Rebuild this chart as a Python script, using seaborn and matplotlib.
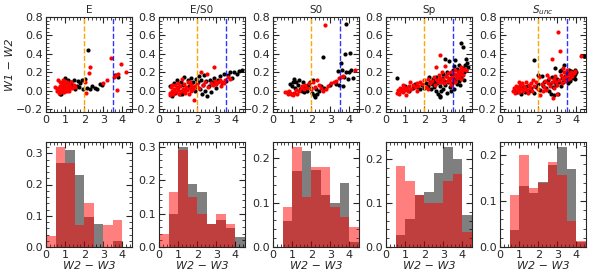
import numpy as np
import pandas as pd
import matplotlib
matplotlib.use("Agg")
import matplotlib.pyplot as plt
from matplotlib.ticker import AutoMinorLocator
import seaborn as sns

sns.set_style("ticks")
plt.rcParams['font.family'] = ['DejaVu Sans']

titles = ["E", "E/S0", "S0", "Sp", r"$S_{unc}$"]

# ---- scatter data (W2-W3, W1-W2) ----
E_red = [(0.45,0.04),(0.55,0.02),(0.6,0.0),(0.62,0.03),(0.65,0.12),(0.7,0.01),(0.7,-0.02),(0.72,0.05),
         (0.75,0.02),(0.78,0.0),(0.8,0.03),(0.8,-0.01),(0.82,0.06),(0.85,0.01),(0.88,0.04),(0.9,0.02),
         (0.9,0.12),(0.92,-0.01),(0.95,0.05),(0.98,0.0),(1.0,0.03),(1.0,0.08),(1.05,0.01),(1.08,0.1),
         (1.1,0.04),(1.12,0.0),(1.15,0.06),(1.2,0.02),(1.25,0.05),(1.3,0.1),(1.35,0.03),(1.45,0.06),
         (1.5,0.04),(0.75,0.09),(0.85,0.07),(0.95,0.11),(1.18,0.0),(2.05,0.1),(2.1,-0.02),(2.25,0.19),
         (2.3,0.26),(3.0,0.08),(3.2,0.12),(3.4,0.36),(3.55,0.15),(3.65,0.17),(3.72,0.01),(3.78,0.18),
         (3.9,0.29),(4.2,0.2)]
E_black = [(0.72,-0.03),(0.78,-0.04),(0.85,0.02),(0.95,0.05),(1.0,0.14),(1.1,0.08),(1.2,0.03),(1.3,0.1),
           (1.35,0.06),(1.45,0.12),(1.5,0.02),(1.6,0.05),(1.65,0.11),(1.75,0.04),(1.8,0.08),(1.9,0.12),
           (1.95,0.02),(2.05,0.13),(2.15,0.03),(2.2,0.44),(2.3,0.02),(2.4,0.05),(2.55,0.03),(2.65,0.02),
           (2.85,0.07),(2.95,0.06),(1.15,0.12),(0.9,0.1),(3.62,0.17),(3.75,0.15)]
ES0_red = [(0.55,-0.05),(0.6,-0.02),(0.65,0.04),(0.7,0.0),(0.75,-0.03),(0.8,0.02),(0.85,0.06),(0.9,-0.01),
           (0.95,0.03),(1.0,0.01),(1.05,-0.04),(1.1,0.05),(1.15,0.0),(1.2,0.13),(1.25,0.02),(1.3,0.07),
           (1.35,-0.02),(1.4,0.04),(1.45,0.01),(1.5,0.09),(1.55,-0.03),(1.6,0.03),(1.65,0.06),(1.7,0.0),
           (1.75,0.04),(1.8,0.02),(1.85,-0.1),(1.9,0.05),(2.0,0.07),(2.1,0.03),(2.2,0.2),(2.3,0.06),
           (2.4,0.1),(2.5,0.18),(2.55,0.04),(2.7,0.08),(2.8,0.06),(2.9,0.26),(2.95,0.11),(3.0,0.07),
           (3.1,0.09),(3.2,0.12),(3.25,0.05),(3.3,0.1),(3.4,0.08),(3.45,0.12),(3.6,0.15),(3.7,0.13),
           (0.7,0.06),(1.0,0.08),(1.3,0.0),(1.6,0.1)]
ES0_black = [(0.6,0.05),(0.7,-0.06),(0.8,0.08),(0.85,-0.02),(0.95,0.12),(1.0,0.04),(1.1,-0.03),(1.15,0.1),
             (1.25,0.06),(1.3,0.15),(1.4,0.02),(1.5,0.12),(1.55,0.05),(1.65,0.14),(1.7,0.08),(1.8,0.1),
             (1.9,0.0),(1.95,0.13),(2.0,0.04),(2.05,0.09),(2.1,0.16),(2.15,0.02),(2.2,0.12),(2.3,0.06),
             (2.35,0.17),(2.4,0.0),(2.45,0.11),(2.5,-0.06),(2.6,0.05),(2.65,0.12),(2.7,-0.01),(2.8,0.1),
             (2.9,0.14),(3.0,0.03),(3.1,0.12),(3.2,0.16),(3.3,0.08),(3.4,0.18),(3.5,0.11),(3.6,0.17),
             (3.7,0.2),(3.8,0.14),(3.95,0.2),(4.1,0.18),(4.2,0.21),(4.35,0.22),(1.2,-0.04),(2.25,-0.03)]
S0_red = [(0.65,-0.01),(0.75,-0.01),(0.8,-0.03),(0.85,0.0),(0.9,-0.02),(0.95,-0.04),(1.0,-0.03),(1.05,-0.05),
          (1.1,-0.02),(1.2,0.01),(1.25,-0.03),(1.35,0.0),(1.5,0.05),(1.6,0.02),(1.7,0.06),(1.8,0.03),
          (1.9,0.08),(2.0,0.02),(2.1,0.1),(2.2,0.04),(2.3,0.12),(2.4,0.06),(2.5,0.03),(2.6,0.0),
          (2.7,0.71),(2.75,0.02),(2.9,0.05),(3.05,0.08),(3.2,0.1),(3.3,0.11),(3.45,0.14),(3.55,0.15),
          (3.65,0.16),(4.3,0.23),(1.45,0.03)]
S0_black = [(0.9,0.07),(1.0,0.05),(1.05,0.1),(1.1,0.13),(1.15,0.03),(1.2,0.1),(1.3,0.06),(1.35,0.12),
            (1.4,0.02),(1.5,0.0),(1.55,0.09),(1.6,-0.01),(1.7,0.04),(1.8,0.0),(1.85,0.06),(1.95,0.1),
            (2.0,0.03),(2.05,-0.02),(2.1,0.12),(2.15,-0.05),(2.2,-0.07),(2.25,0.02),(2.3,-0.04),(2.4,0.0),
            (2.5,0.05),(2.6,0.37),(2.65,0.03),(3.0,0.06),(3.3,0.07),(3.4,0.21),(3.45,0.06),(3.55,0.3),
            (3.6,0.22),(3.65,0.05),(3.7,0.15),(3.75,0.4),(3.8,0.2),(3.83,0.72),(3.9,0.13),(4.0,0.2),
            (4.03,0.41),(4.1,0.22),(4.2,0.14)]
Sp_red = [(0.6,-0.02),(0.65,0.01),(0.7,-0.03),(0.75,0.03),(0.8,0.0),(0.85,0.02),(0.9,-0.01),(0.95,0.04),
          (1.0,0.01),(1.05,-0.05),(1.1,0.03),(1.15,0.0),(1.2,0.05),(1.3,0.02),(1.4,0.06),(1.5,0.04),
          (1.6,0.08),(1.7,0.05),(1.8,0.1),(1.9,0.07),(2.0,0.12),(2.1,0.04),(2.2,0.13),(2.3,0.08),
          (2.4,0.11),(2.5,0.15),(2.55,0.06),(2.6,0.26),(2.65,0.12),(2.7,0.09),(2.75,0.17),(2.8,0.39),
          (2.85,0.14),(2.9,0.1),(2.95,0.2),(3.0,0.13),(3.05,0.08),(3.1,0.27),(3.15,0.16),(3.2,0.11),
          (3.25,0.19),(3.3,0.14),(3.35,0.09),(3.4,0.2),(3.45,0.15),(3.5,0.12),(3.55,0.18),(3.6,0.1),
          (3.65,0.17),(3.7,0.14),(3.75,0.2),(3.8,0.16),(3.85,0.22),(3.9,0.18),(3.95,0.13),(4.0,0.21),
          (4.05,0.17),(4.1,0.24),(4.2,0.22),(1.25,0.09),(0.9,0.06),(1.6,0.0),(2.2,0.02),(3.4,0.06),
          (3.6,0.23),(3.95,0.26)]
Sp_black = [(0.6,0.14),(1.2,0.0),(1.4,0.03),(1.6,0.04),(1.8,0.02),(1.9,0.06),(2.0,0.03),(2.1,0.08),
            (2.2,0.05),(2.3,0.1),(2.35,0.02),(2.4,0.07),(2.45,0.13),(2.5,0.04),(2.55,0.1),(2.6,0.0),
            (2.65,0.08),(2.7,-0.04),(2.75,0.12),(2.8,0.05),(2.85,-0.06),(2.9,0.09),(2.95,0.14),(3.0,0.02),
            (3.05,0.11),(3.1,0.34),(3.1,0.06),(3.15,0.16),(3.2,-0.02),(3.25,0.1),(3.3,0.32),(3.3,0.13),
            (3.35,0.04),(3.4,0.18),(3.45,0.08),(3.5,0.14),(3.5,0.22),(3.55,0.02),(3.6,0.33),(3.6,0.12),
            (3.65,0.17),(3.7,0.07),(3.7,0.24),(3.75,0.15),(3.8,0.28),(3.8,0.11),(3.85,0.19),(3.9,0.52),
            (3.9,0.14),(3.95,0.22),(4.0,0.17),(4.05,0.47),(4.05,0.25),(4.1,0.2),(4.15,0.28),(4.2,0.35),
            (4.2,0.23),(4.25,0.3),(4.3,0.26),(2.9,0.0),(3.0,0.18),(3.2,0.2),(2.6,0.15),(2.8,-0.07),
            (3.4,0.0),(3.55,0.27),(1.0,0.05),(1.5,0.07),(2.25,0.15),(3.85,0.06),(4.1,0.12)]
Sunc_red = [(0.7,0.0),(0.75,0.03),(0.8,-0.02),(0.85,0.05),(0.9,0.01),(0.95,0.04),(1.0,-0.01),(1.05,0.06),
            (1.1,0.02),(1.15,0.08),(1.2,0.0),(1.25,0.05),(1.3,0.03),(1.35,0.1),(1.4,0.01),(1.5,0.06),
            (1.55,0.03),(1.6,0.08),(1.7,0.0),(1.8,0.05),(1.9,0.09),(2.0,0.02),(2.05,0.15),(2.1,-0.05),
            (2.2,0.07),(2.3,0.04),(2.35,0.11),(2.4,0.01),(2.5,0.08),(2.55,0.14),(2.6,0.05),(2.7,0.35),
            (2.7,0.1),(2.75,-0.08),(2.8,0.13),(2.85,0.03),(2.9,0.16),(2.95,0.09),(3.0,0.06),(3.06,0.64),
            (3.1,0.12),(3.15,0.43),(3.2,0.17),(3.25,0.08),(3.3,0.14),(3.35,0.2),(3.4,0.11),(3.45,0.16),
            (3.5,0.22),(3.55,0.13),(3.6,0.18),(3.65,0.14),(3.7,0.2),(3.75,0.16),(3.85,0.19),(3.95,0.21),
            (4.26,0.38),(1.0,0.09),(1.45,-0.02),(1.75,0.12),(2.25,0.0),(2.45,0.17),(3.0,-0.03),(3.3,0.25)]
Sunc_black = [(0.8,0.01),(0.9,-0.01),(1.0,0.03),(1.1,-0.03),(1.2,0.04),(1.3,-0.01),(1.4,0.05),(1.5,0.0),
              (1.6,0.03),(1.78,0.33),(1.8,-0.02),(1.9,0.04),(2.0,0.07),(2.1,0.01),(2.2,0.16),(2.25,0.05),
              (2.3,0.09),(2.4,0.03),(2.5,0.12),(2.55,0.0),(2.6,0.07),(2.7,0.15),(2.75,0.04),(2.8,-0.05),
              (2.85,0.1),(2.9,0.25),(2.95,0.06),(3.0,0.13),(3.05,-0.04),(3.1,0.09),(3.15,0.21),(3.2,0.05),
              (3.25,0.14),(3.3,0.1),(3.35,0.28),(3.4,0.16),(3.45,0.12),(3.5,0.19),(3.55,0.14),(3.6,0.23),
              (3.65,0.11),(3.7,0.17),(3.75,0.14),(3.8,0.2),(3.85,0.16),(3.9,0.22),(3.95,0.18),(4.0,0.2),
              (4.4,0.38),(2.0,0.17),(2.65,-0.04),(3.2,0.22),(3.55,0.08),(3.9,0.13),(3.7,0.21)]

scatter_red = [E_red, ES0_red, S0_red, Sp_red, Sunc_red]
scatter_black = [E_black, ES0_black, S0_black, Sp_black, Sunc_black]

# ---- histogram data: fraction per 0.5-wide bin of W2-W3 (0..4.5) ----
bin_centers = [0.25, 0.75, 1.25, 1.75, 2.25, 2.75, 3.25, 3.75, 4.25]
E_hist_black    = [0.0, 0.27, 0.31, 0.23, 0.095, 0.075, 0.0, 0.02, 0.0]
E_hist_red      = [0.035, 0.32, 0.27, 0.07, 0.14, 0.0, 0.07, 0.088, 0.0]
ES0_hist_black  = [0.0, 0.10, 0.30, 0.19, 0.165, 0.07, 0.08, 0.057, 0.03]
ES0_hist_red    = [0.04, 0.165, 0.29, 0.15, 0.10, 0.068, 0.098, 0.07, 0.0]
S0_hist_black   = [0.0, 0.058, 0.172, 0.217, 0.173, 0.118, 0.10, 0.145, 0.012]
S0_hist_red     = [0.0, 0.09, 0.225, 0.113, 0.18, 0.18, 0.09, 0.067, 0.045]
Sp_hist_black   = [0.0, 0.027, 0.063, 0.118, 0.125, 0.168, 0.227, 0.20, 0.073]
Sp_hist_red     = [0.0, 0.183, 0.15, 0.118, 0.10, 0.10, 0.15, 0.165, 0.033]
Sunc_hist_black = [0.0, 0.038, 0.132, 0.118, 0.142, 0.178, 0.218, 0.17, 0.01]
Sunc_hist_red   = [0.0, 0.113, 0.20, 0.128, 0.14, 0.185, 0.158, 0.057, 0.013]

hist_black = [E_hist_black, ES0_hist_black, S0_hist_black, Sp_hist_black, Sunc_hist_black]
hist_red = [E_hist_red, ES0_hist_red, S0_hist_red, Sp_hist_red, Sunc_hist_red]

fig = plt.figure(figsize=(5.93, 2.78), dpi=100)
lefts = [46, 159, 273, 386, 500]
W, H = 593.0, 278.0
pw = 86
top_row = (17, 112)
bot_row = (142, 247)


def style(ax):
    ax.tick_params(which='both', direction='in', top=True, right=True, labelsize=8, pad=2)
    ax.tick_params(which='major', length=4, width=0.8)
    ax.tick_params(which='minor', length=2, width=0.6)
    ax.xaxis.set_minor_locator(AutoMinorLocator(5))
    ax.yaxis.set_minor_locator(AutoMinorLocator(5))
    for s in ax.spines.values():
        s.set_linewidth(0.8)


for i in range(5):
    l = lefts[i]
    ax = fig.add_axes([l / W, 1 - top_row[1] / H, pw / W, (top_row[1] - top_row[0]) / H])
    b = pd.DataFrame(scatter_black[i], columns=['x', 'y'])
    r = pd.DataFrame(scatter_red[i], columns=['x', 'y'])
    sns.scatterplot(data=b, x='x', y='y', color='black', s=9, linewidth=0, ax=ax, zorder=2)
    sns.scatterplot(data=r, x='x', y='y', color='red', s=9, linewidth=0, ax=ax, zorder=3)
    ax.axvline(2.0, color='orange', ls='--', lw=1.0, zorder=4)
    ax.axvline(3.5, color='blue', ls='--', lw=1.0, alpha=0.8, zorder=4)
    ax.set_xlim(0, 4.5)
    ax.set_ylim(-0.23, 0.8)
    ax.set_xticks([0, 1, 2, 3, 4])
    ax.set_yticks([-0.2, 0.0, 0.2, 0.4, 0.6, 0.8])
    ax.set_xlabel('')
    ax.set_ylabel('')
    ax.set_title(titles[i], fontsize=7.5, pad=3)
    style(ax)
    if i == 0:
        ax.set_ylabel('W1 − W2', fontsize=8, fontstyle='italic', labelpad=1)

    axh = fig.add_axes([l / W, 1 - bot_row[1] / H, pw / W, (bot_row[1] - bot_row[0]) / H])
    hb = pd.DataFrame({'x': bin_centers, 'w': hist_black[i]})
    hr = pd.DataFrame({'x': bin_centers, 'w': hist_red[i]})
    sns.histplot(data=hb, x='x', weights='w', binwidth=0.5, binrange=(0, 4.5),
                 color='black', alpha=0.5, edgecolor='none', ax=axh)
    sns.histplot(data=hr, x='x', weights='w', binwidth=0.5, binrange=(0, 4.5),
                 color='red', alpha=0.5, edgecolor='none', ax=axh)
    ymax = max(max(hist_black[i]), max(hist_red[i])) * 1.05
    axh.set_ylim(0, ymax)
    axh.set_xlim(0, 4.5)
    axh.set_xticks([0, 1, 2, 3, 4])
    axh.set_ylabel('')
    axh.set_xlabel('W2 − W3', fontsize=8, fontstyle='italic', labelpad=1)
    style(axh)

fig.savefig('out.png', dpi=100)
